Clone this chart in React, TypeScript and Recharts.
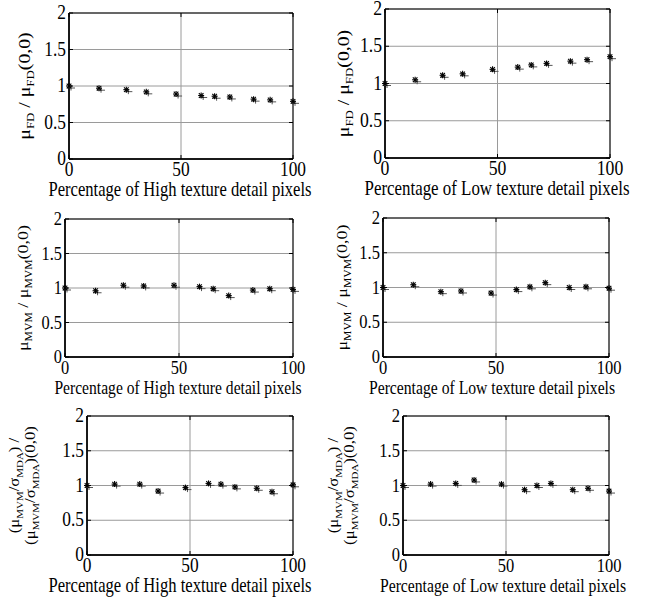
import React from 'react';
import { ScatterChart, Scatter, XAxis, YAxis, CartesianGrid, ReferenceArea } from 'recharts';

const pct = [0, 13.4, 25.6, 34.5, 47.8, 59, 65, 71.8, 82.4, 89.8, 100];
const fdHigh = [1.0, 0.97, 0.95, 0.92, 0.89, 0.87, 0.86, 0.85, 0.82, 0.81, 0.79];
const fdLow = [1.0, 1.05, 1.11, 1.13, 1.19, 1.22, 1.25, 1.27, 1.3, 1.32, 1.36];
const mvmHigh = [1.0, 0.96, 1.04, 1.03, 1.04, 1.02, 0.99, 0.89, 0.97, 0.99, 0.98];
const mvmLow = [1.0, 1.04, 0.94, 0.95, 0.92, 0.97, 1.01, 1.07, 1.0, 1.01, 0.99];
const ratioHigh = [1.0, 1.02, 1.02, 0.92, 0.97, 1.03, 1.02, 0.98, 0.96, 0.91, 1.01];
const ratioLow = [1.0, 1.02, 1.03, 1.08, 1.02, 0.94, 1.0, 1.03, 0.94, 0.96, 0.92];
const xTicks = [0, 50, 100];
const yTicks = [0, 0.5, 1, 1.5, 2];
const labelHigh = 'Percentage of High texture detail pixels';
const labelLow = 'Percentage of Low texture detail pixels';

const FONT = "'Liberation Serif', 'Times New Roman', Times, serif";
const TS = { fontFamily: FONT };
const SY = 1.2;
const SUB = 0.65;
const ML = 90, MT = 15, MR = 20, XH = 50;

type Seg = { t: string; sub?: boolean };

function Star(props: any) {
  const { cx, cy } = props;
  if (cx == null || cy == null) return null;
  const a = 3, d = 2.3;
  const bx = cx + 2, by = cy + 2;
  return (
    <g>
      <g stroke="#555" strokeWidth={1}>
        <line x1={bx - 4} x2={bx + 4} y1={by} y2={by} />
        <line x1={bx} x2={bx} y1={by - 2.5} y2={by + 2.5} />
      </g>
      <g stroke="#000" strokeWidth={1.1}>
        <line x1={cx - a} x2={cx + a} y1={cy} y2={cy} />
        <line x1={cx} x2={cx} y1={cy - a} y2={cy + a} />
        <line x1={cx - d} x2={cx + d} y1={cy - d} y2={cy + d} />
        <line x1={cx - d} x2={cx + d} y1={cy + d} y2={cy - d} />
      </g>
    </g>
  );
}

function RichText({ segs, fs }: { segs: Seg[]; fs: number }) {
  const out: any[] = [];
  let down = false;
  segs.forEach((s, i) => {
    const want = !!s.sub;
    let dy = 0;
    if (want && !down) dy = fs * 0.27;
    if (!want && down) dy = -fs * 0.27;
    down = want;
    out.push(
      <tspan key={i} dy={dy} fontSize={want ? fs * SUB : fs}>
        {s.t}
      </tspan>
    );
  });
  return <>{out}</>;
}

type PanelProps = {
  L: number; T: number; R: number; B: number;
  values: number[];
  xLabel: string;
  xlCx: number;
  fs: number;
  yfs: number;
  yLines: Seg[][];
  yOff: number[];
};

function Panel({ L, T, R, B, values, xLabel, xlCx, fs, yfs, yLines, yOff }: PanelProps) {
  const W = R - L;
  const H = B - T;
  const data = pct.map((x, i) => ({ x, y: values[i] }));
  const tfs = fs + 0.8;
  const ox = L - ML;

  const XTick = (p: any) => (
    <g>
      <line x1={p.x} x2={p.x} y1={p.y} y2={p.y - 4} stroke="#000" />
      <line x1={p.x} x2={p.x} y1={p.y - H} y2={p.y - H + 4} stroke="#000" />
      <text
        transform={`translate(${p.x},${p.y + 17}) scale(1,${SY})`}
        textAnchor="middle"
        fontSize={tfs}
        style={TS}
        fill="#000"
      >
        {p.payload.value}
      </text>
    </g>
  );

  const YTick = (p: any) => (
    <g>
      <line x1={p.x} x2={p.x + 4} y1={p.y} y2={p.y} stroke="#000" />
      <line x1={p.x + W - 4} x2={p.x + W} y1={p.y} y2={p.y} stroke="#000" />
      <text
        transform={`translate(${p.x - 3},${p.y + 6}) scale(1,${SY})`}
        textAnchor="end"
        fontSize={tfs}
        style={TS}
        fill="#000"
      >
        {p.payload.value}
      </text>
    </g>
  );

  const XLab = () => (
    <text
      transform={`translate(${xlCx - ox},${MT + H + 37}) scale(1,${SY})`}
      textAnchor="middle"
      fontSize={fs}
      style={TS}
      fill="#000"
    >
      {xLabel}
    </text>
  );

  const YLab = () => (
    <g>
      {yLines.map((segs, i) => (
        <text
          key={i}
          transform={`translate(${ML - yOff[i]},${MT + H / 2}) scale(1,${SY}) rotate(-90)`}
          textAnchor="middle"
          fontSize={yfs}
          style={TS}
          fill="#000"
        >
          <RichText segs={segs} fs={yfs} />
        </text>
      ))}
    </g>
  );

  return (
    <div style={{ position: 'absolute', left: ox, top: T - MT }}>
      <ScatterChart
        width={W + ML + MR}
        height={H + MT + XH}
        margin={{ top: MT, right: MR, bottom: 0, left: 0 }}
        style={TS}
      >
        <CartesianGrid stroke="#9a9a9a" strokeWidth={1} />
        <XAxis
          type="number"
          dataKey="x"
          domain={[0, 100]}
          ticks={xTicks}
          interval={0}
          height={XH}
          tickLine={false}
          tickSize={0}
          tickMargin={0}
          axisLine={{ stroke: '#000', strokeWidth: 1.5 }}
          tick={XTick}
          label={XLab}
        />
        <YAxis
          type="number"
          dataKey="y"
          domain={[0, 2]}
          ticks={yTicks}
          interval={0}
          width={ML}
          tickLine={false}
          tickSize={0}
          tickMargin={0}
          axisLine={{ stroke: '#000', strokeWidth: 1.5 }}
          tick={YTick}
          label={YLab}
        />
        <ReferenceArea x1={0} x2={100} y1={0} y2={2} stroke="#000" strokeWidth={1} fill="none" fillOpacity={0} />
        <Scatter data={data} isAnimationActive={false} shape={Star} />
      </ScatterChart>
    </div>
  );
}

const fdLab: Seg[][] = [[{ t: 'μ' }, { t: 'FD', sub: true }, { t: ' / μ' }, { t: 'FD', sub: true }, { t: '(0,0)' }]];
const mvmLab: Seg[][] = [[{ t: 'μ' }, { t: 'MVM', sub: true }, { t: ' / μ' }, { t: 'MVM', sub: true }, { t: '(0,0)' }]];
const ratioLab: Seg[][] = [
  [{ t: '(μ' }, { t: 'MVM', sub: true }, { t: '/σ' }, { t: 'MDA', sub: true }, { t: ') /' }],
  [{ t: '(μ' }, { t: 'MVM', sub: true }, { t: '/σ' }, { t: 'MDA', sub: true }, { t: ')(0,0)' }],
];

export default function App() {
  return (
    <div>
      <Panel L={69} T={13} R={293} B={159} values={fdHigh} xLabel={labelHigh} xlCx={180} fs={16.6} yfs={16.5} yLines={fdLab} yOff={[39]} />
      <Panel L={385} T={9} R={610} B={158} values={fdLow} xLabel={labelLow} xlCx={497} fs={16.9} yfs={16.5} yLines={fdLab} yOff={[36]} />
      <Panel L={65} T={219} R={293} B={357} values={mvmHigh} xLabel={labelHigh} xlCx={178} fs={15.6} yfs={15} yLines={mvmLab} yOff={[37]} />
      <Panel L={383} T={218} R={609} B={357} values={mvmLow} xLabel={labelLow} xlCx={492} fs={15.7} yfs={15} yLines={mvmLab} yOff={[36]} />
      <Panel L={87} T={416} R={293} B={555} values={ratioHigh} xLabel={labelHigh} xlCx={180} fs={16.6} yfs={14} yLines={ratioLab} yOff={[68, 52]} />
      <Panel L={403} T={416} R={609} B={555} values={ratioLow} xLabel={labelLow} xlCx={503} fs={15.7} yfs={14} yLines={ratioLab} yOff={[65, 49]} />
    </div>
  );
}
